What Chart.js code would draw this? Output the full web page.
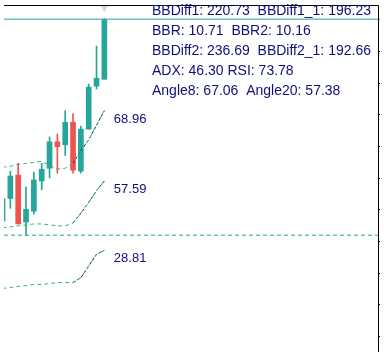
<!DOCTYPE html>
<html>
<head>
<meta charset="utf-8">
<script src="https://cdn.jsdelivr.net/npm/chart.js@4/dist/chart.umd.min.js"></script>
<style>
  html, body { margin:0; padding:0; background:#fff; }
</style>
</head>
<body>
<canvas id="chart" width="384" height="356"></canvas>
<script>
// candle 0 is the one cut off by the left edge
const candleIdx = [0,1,2,3,4,5,6,7,8,9,10,11,12,13];
const opens  = [134,157,181,133,144,175,188,215,212,235,185,228,272,279];
const highs  = [159,185,193,169,184,193,220,223,247,244,231,274,313,341];
const lows   = [132,147,131,119,141,166,178,183,201,183,183,228,269,279];
const closes = [157,180,131,146,176,187,215,210,235,186,228,271,280,340];

// bands (upper / middle / lower), rising part from index 9 drawn navy
const upperBand  = [189,190,192,193,194,195,191,187,188,193,206,217,232,247];
const middleBand = [127,128,129,130,131,131,130,129,129,132,142,153,165,175];
const lowerBand  = [65,66,67,68,69,69,70,71,71,71,76,88,100,104];
const risingFrom = 9;
const bandLabels = ['68.96','57.59','28.81'];

const solidLevel  = 340.5;
const dashedLevel = 119.5;
const tickValues  = [308,275.6,243.2,210.8,178.4,146,113.6,81.2,48.8,16.4];

const infoLines = [
  'BBDiff1: 220.73  BBDiff1_1: 196.23',
  'BBR: 10.71  BBR2: 10.16',
  'BBDiff2: 236.69  BBDiff2_1: 192.66',
  'ADX: 46.30 RSI: 73.78',
  'Angle8: 67.06  Angle20: 57.38'
];

const UP = '#26a69a', DOWN = '#ef5350', BAND = '#3cb371', NAVY = '#14147a', TXT = '#10107a';
const xMin = 0.1875 * -1 + 0.375, xMax = xMin + 48; // 8px per candle

const candleColor = candleIdx.map(i => closes[i] >= opens[i] ? UP : DOWN);
const pts = arr => candleIdx.map(i => ({x:i, y:arr[i]}));
const risePts = arr => candleIdx.filter(i => i >= risingFrom).map(i => ({x:i, y:arr[i]}));

function bandSet(arr){
  return [
    { type:'line', data: pts(arr), borderColor: BAND, borderWidth:1, borderDash:[4,3], pointRadius:0, order:0 },
    { type:'line', data: risePts(arr), borderColor: NAVY, borderWidth:1, borderDash:[3,2], pointRadius:0, order:0 }
  ];
}

const bandList = [upperBand, middleBand, lowerBand];

const overlay = {
  id:'overlay',
  afterDraw(chart){
    const {ctx, chartArea, scales:{x, y}} = chart;
    ctx.save();
    // frame
    ctx.strokeStyle = '#000';
    ctx.lineWidth = 1;
    ctx.beginPath();
    ctx.moveTo(chartArea.left, chartArea.top + 1.5);
    ctx.lineTo(chartArea.right - 1.5, chartArea.top + 1.5);
    ctx.lineTo(chartArea.right - 1.5, chartArea.bottom);
    tickValues.forEach(v => {
      const py = Math.round(y.getPixelForValue(v)) + 0.5;
      ctx.moveTo(chartArea.right - 2, py);
      ctx.lineTo(chartArea.right, py);
    });
    ctx.stroke();

    // band end labels
    ctx.fillStyle = TXT;
    ctx.font = '13px "Liberation Sans", Arial, sans-serif';
    ctx.textBaseline = 'alphabetic';
    const last = candleIdx[candleIdx.length - 1];
    bandList.forEach((b, k) => {
      ctx.fillText(bandLabels[k], x.getPixelForValue(last) + 9.5, y.getPixelForValue(b[last]) + 12);
    });

    // indicator readout
    ctx.font = '14px "Liberation Sans", Arial, sans-serif';
    infoLines.forEach((t, k) => ctx.fillText(t, 152, 15 + k * 20));
    ctx.restore();
  }
};

new Chart(document.getElementById('chart'), {
  type:'bar',
  data:{
    datasets:[
      ...bandList.flatMap(bandSet),
      { type:'line', data:[{x:xMin,y:solidLevel},{x:xMax,y:solidLevel}], borderColor:UP, borderWidth:1, pointRadius:0, order:0 },
      { type:'line', data:[{x:xMin,y:dashedLevel},{x:xMax,y:dashedLevel}], borderColor:UP, borderWidth:1, borderDash:[4,3], pointRadius:0, order:0 },
      { type:'scatter', data:[{x:13, y:352}], pointStyle:'triangle', rotation:180, radius:4, backgroundColor:'#d6d6d6', borderWidth:0, order:0 },
      { data: candleIdx.map(i => ({x:i, y:[opens[i], closes[i]]})), backgroundColor: candleColor,
        barThickness:5, grouped:false, borderWidth:0, order:1 },
      { data: candleIdx.map(i => ({x:i, y:[lows[i], highs[i]]})), backgroundColor: candleColor,
        barThickness:1, grouped:false, borderWidth:0, order:2 }
    ]
  },
  options:{
    responsive:false,
    animation:false,
    layout:{ padding:0 },
    plugins:{ legend:{display:false}, tooltip:{enabled:false} },
    scales:{
      x:{ type:'linear', min:xMin, max:xMax, offset:false, display:false },
      y:{ type:'linear', min:0, max:356, display:false }
    }
  },
  plugins:[overlay]
});
</script>
</body>
</html>
